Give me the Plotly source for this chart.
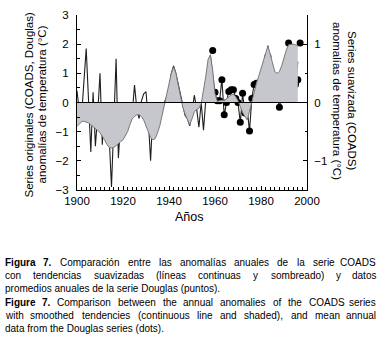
import plotly.graph_objects as go

# ---------------- data ----------------
YEARS_COADS = list(range(1900, 1997))
COADS = [0.4, -0.3, -0.45, 0.7, 1.85, 0.1, -1.7, 0.35, -1.5, -0.4,
         1.0, -1.45, -0.1, -0.95, -1.2, -2.9, -0.7, 1.5, -1.9, -0.6,
         -0.8, -0.55, -0.75, -0.5, -0.4, 0.6, -0.2, -0.55, 0.05, 0.3,
         0.37, -0.6, -2.0, -0.3, -0.4, -0.3, -0.55, -0.25, 0.0, 0.2,
         0.45, 1.0, 1.25, 1.0, 0.65, 0.3, 0.0, -0.45, -0.55, -0.8,
         -0.35, 0.25, -0.2, -0.85, 0.0, -0.95, 0.1, 0.7, 1.6, 0.9,
         0.3, 0.05, 0.05, 0.8, -0.45, 0.0, 0.4, 0.45, 0.45, 0.15,
         0.0, -0.7, 0.3, -0.35, -0.2, -1.0, 0.15, 0.6, 0.65, 0.45,
         0.6, 0.85, 0.3, 1.95, 0.8, 0.2, 0.3, 0.25, -0.15, 0.2,
         1.05, 0.2, 2.05, 1.1, 0.7, 0.6, 1.4]

YEARS_SMOOTH = list(range(1900, 1997))
SMOOTH = [-0.41, -0.37, -0.33, -0.32, -0.33, -0.35, -0.38, -0.41, -0.44, -0.48,
          -0.52, -0.57, -0.64, -0.72, -0.77, -0.78, -0.77, -0.74, -0.70, -0.67,
          -0.64, -0.58, -0.50, -0.38, -0.28, -0.24, -0.21, -0.21, -0.24, -0.30,
          -0.40, -0.50, -0.60, -0.64, -0.62, -0.52, -0.40, -0.22, -0.05, 0.15,
          0.33, 0.50, 0.61, 0.50, 0.30, 0.08, -0.08, -0.20, -0.30, -0.38,
          -0.28, -0.16, -0.12, -0.10, -0.02, 0.20, 0.45, 0.74, 0.82, 0.55,
          0.15, 0.02, 0.03, 0.04, 0.03, 0.06, 0.10, 0.13, 0.14, 0.10,
          0.03, -0.08, -0.17, -0.24, -0.30, -0.15, 0.02, 0.20, 0.33, 0.45,
          0.58, 0.73, 0.88, 0.97, 0.83, 0.65, 0.53, 0.50, 0.53, 0.63,
          0.78, 0.90, 0.99, 1.00, 1.00, 0.99, 0.97]

YEARS_DOUGLAS = list(range(1959, 1998))
DOUGLAS = [1.78, 0.35, 0.06, 0.06, 0.78, -0.42, 0.0, 0.38, 0.44, 0.44,
           0.14, 0.0, -0.68, 0.32, -0.36, -0.2, -0.98, 0.14, 0.62, 0.66,
           0.46, 0.62, 0.86, 0.32, 1.58, 0.82, 0.18, 0.3, 0.26, -0.16,
           0.2, 1.04, 0.18, 2.04, 1.12, 0.72, 0.62, 0.78, 2.04]

X_TICKS = [1900, 1920, 1940, 1960, 1980, 2000]
Y_LEFT_TICKS = [-3, -2, -1, 0, 1, 2, 3]
Y_RIGHT_TICKS = [-1, 0, 1]

CAPTION = [
    (["<b>Figura</b>", "<b>7.</b>", "Comparación", "entre", "las", "anomalías",
      "anuales", "de", "la", "serie", "COADS"], True),
    (["con", "tendencias", "suavizadas", "(líneas", "continuas", "y", "sombreado)",
      "y", "datos"], True),
    (["promedios", "anuales", "de", "la", "serie", "Douglas", "(puntos)."], False),
    (["<b>Figure</b>", "<b>7.</b>", "Comparison", "between", "the", "annual",
      "anomalies", "of", "the", "COADS", "series"], True),
    (["with", "smoothed", "tendencies", "(continuous", "line", "and", "shaded),",
      "and", "mean", "annual"], True),
    (["data", "from", "the", "Douglas", "series", "(dots)."], False),
]

# ---------------- layout geometry ----------------
W, H = 380, 341
L, R, T, B = 77, 73, 15, 151
PW, PH = W - L - R, H - T - B


def px_x(px):
    return (px - L) / PW


def px_y(py):
    return (H - B - py) / PH


FONT = "Liberation Sans, Arial, sans-serif"
CAP_FONT = "Liberation Sans, Arial, sans-serif"
CAP_SIZE = 10

REG = {' ': 278, '(': 333, ')': 333, ',': 278, '.': 278, '7': 556,
       'A': 667, 'C': 722, 'D': 722, 'F': 611, 'O': 778, 'S': 667,
       'a': 556, 'b': 556, 'c': 500, 'd': 556, 'e': 556, 'f': 278, 'g': 556,
       'h': 556, 'i': 222, 'l': 222, 'm': 833, 'n': 556, 'o': 556, 'p': 556,
       'r': 333, 's': 500, 't': 278, 'u': 556, 'v': 500, 'w': 722, 'y': 500,
       'z': 500, 'á': 556, 'í': 278, 'ó': 556}
BOLD = {'F': 611, 'i': 278, 'g': 611, 'u': 611, 'r': 389, 'a': 556, 'e': 556,
        '7': 556, '.': 278}


def word_width(tok):
    bold = tok.startswith("<b>")
    s = tok.replace("<b>", "").replace("</b>", "")
    tbl = BOLD if bold else REG
    return sum(tbl.get(c, 556) for c in s) / 1000 * CAP_SIZE


def label(text, px, py, size, angle=0, xanchor="center", family=FONT):
    return dict(text=text, x=px_x(px), y=px_y(py), xref="paper", yref="paper",
                xanchor=xanchor, yanchor="middle", showarrow=False, borderpad=0,
                textangle=angle, font=dict(family=family, size=size, color="black"))


fig = go.Figure()

fig.add_trace(go.Scatter(
    x=YEARS_SMOOTH, y=SMOOTH, yaxis="y2", mode="lines",
    line=dict(color="rgb(120,120,120)", width=1),
    fill="tozeroy", fillcolor="rgb(198,199,204)", hoverinfo="skip",
    showlegend=False))

fig.add_trace(go.Scatter(
    x=YEARS_COADS, y=COADS, mode="lines",
    line=dict(color="rgb(30,30,30)", width=1.1),
    showlegend=False))

fig.add_trace(go.Scatter(
    x=YEARS_DOUGLAS, y=DOUGLAS, mode="markers",
    marker=dict(color="black", size=7),
    showlegend=False))

annotations = [
    label("Series originales (COADS, Douglas)", 28.5, 105, 11.5, -90),
    label("anomalías de temperatura (°C)", 41.5, 105, 11.5, -90),
    label("Series suavizada (COADS)", 352, 100, 11.5, 90),
    label("anomalías de temperatura (°C)", 337, 101, 11.5, 90),
    label("Años", 189, 216.5, 12.5),
]

# caption
LINE_Y = [262, 275, 288, 302, 315, 328]
X0, X1 = 3.5, 377
for (words, justify), ly in zip(CAPTION, LINE_Y):
    if not justify:
        annotations.append(label(" ".join(words), X0, ly, CAP_SIZE, xanchor="left",
                                 family=CAP_FONT))
        continue
    widths = [word_width(w) for w in words]
    gap = (X1 - X0 - sum(widths)) / (len(words) - 1)
    cx = X0
    for i, (w, ww) in enumerate(zip(words, widths)):
        last = i == len(words) - 1
        annotations.append(label(w, X1 if last else cx, ly, CAP_SIZE,
                                 xanchor="right" if last else "left", family=CAP_FONT))
        cx += ww + gap

fig.update_layout(
    width=W, height=H,
    margin=dict(l=L, r=R, t=T, b=B, pad=0),
    paper_bgcolor="white", plot_bgcolor="white",
    font=dict(family=FONT, size=11.5, color="black"),
    showlegend=False,
    annotations=annotations,
    shapes=[dict(type="line", xref="paper", x0=0, x1=1, yref="y", y0=0, y1=0,
                 line=dict(color="black", width=1), layer="above")],
    xaxis=dict(range=[1900, 2000], tickvals=X_TICKS, ticks="inside", ticklen=4,
               tickcolor="black", showline=True, linecolor="black", linewidth=1,
               showgrid=False, zeroline=False, tickfont=dict(size=11.5),
               automargin=False,
               minor=dict(dtick=2, ticks="inside", ticklen=3, tickcolor="black",
                          showgrid=False)),
    yaxis=dict(range=[-3, 3], tickvals=Y_LEFT_TICKS, ticks="inside", ticklen=4,
               tickcolor="black", showline=True, linecolor="black", linewidth=1,
               showgrid=False, zeroline=False, tickfont=dict(size=11.5),
               ticklabelstandoff=5, automargin=False,
               minor=dict(dtick=0.5, ticks="inside", ticklen=2.5, tickcolor="black",
                          showgrid=False)),
    yaxis2=dict(range=[-1.5, 1.5], tickvals=Y_RIGHT_TICKS, overlaying="y", side="right",
                ticks="inside", ticklen=4, tickcolor="black", showline=True,
                linecolor="black", linewidth=1, showgrid=False, zeroline=False,
                tickfont=dict(size=11.5), ticklabelstandoff=4, automargin=False,
                minor=dict(dtick=0.5, ticks="inside", ticklen=2.5, tickcolor="black",
                           showgrid=False)),
)

fig.write_html("out.html", config={"displayModeBar": False},
               post_script="document.body.style.margin='0';document.body.style.overflow='hidden';")
